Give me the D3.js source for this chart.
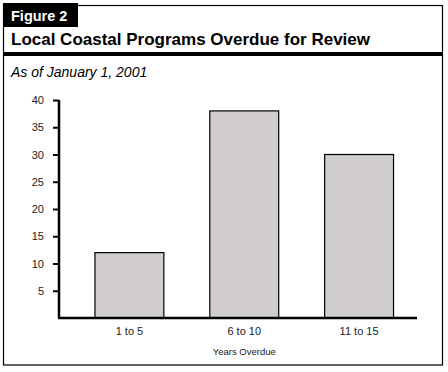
<!DOCTYPE html>
<html>
<head>
<meta charset="utf-8">
<script src="https://cdn.jsdelivr.net/npm/d3@7"></script>
<style>
  html, body { margin: 0; padding: 0; background: #fff; }
  text { font-family: "Liberation Sans", Arial, Helvetica, sans-serif; }
</style>
</head>
<body>
<svg id="chart" width="448" height="372"></svg>
<script>
const categories = ["1 to 5", "6 to 10", "11 to 15"];
const values = [12, 38, 30];
const yTicks = [5, 10, 15, 20, 25, 30, 35, 40];
const figureLabel = "Figure 2";
const title = "Local Coastal Programs Overdue for Review";
const subtitle = "As of January 1, 2001";
const xTitle = "Years Overdue";

const svg = d3.select("#chart");

// Frame
svg.append("rect").attr("x", 3.5).attr("y", 5.5).attr("width", 439).attr("height", 359.5)
  .attr("fill", "#fff").attr("stroke", "#000").attr("stroke-width", 1.2);
// Thick rule under title
svg.append("rect").attr("x", 3).attr("y", 52).attr("width", 440).attr("height", 4).attr("fill", "#000");
// Figure tab
svg.append("rect").attr("x", 3).attr("y", 3).attr("width", 75).attr("height", 24).attr("fill", "#000");
svg.append("text").attr("x", 11).attr("y", 21).attr("fill", "#fff")
  .attr("font-size", 14.5).attr("font-weight", "bold").text(figureLabel);
svg.append("text").attr("x", 11).attr("y", 45).attr("fill", "#000")
  .attr("font-size", 17).attr("font-weight", "bold").text(title);
svg.append("text").attr("x", 11).attr("y", 77).attr("fill", "#000")
  .attr("font-size", 14).attr("font-style", "italic").text(subtitle);

// Scales
const y = d3.scaleLinear().domain([0, 40]).range([318, 100]);
const x = d3.scaleBand().domain(categories).range([72, 416.5]).paddingInner(0.4).paddingOuter(0.2);

// Bars
svg.selectAll("rect.bar").data(values).enter().append("rect")
  .attr("class", "bar")
  .attr("x", (d, i) => x(categories[i]))
  .attr("y", d => y(d))
  .attr("width", x.bandwidth())
  .attr("height", d => y(0) - y(d))
  .attr("fill", "#d1cdcd").attr("stroke", "#000").attr("stroke-width", 1.2);

// Y axis
const yAxis = svg.append("g").attr("transform", "translate(59,0)")
  .call(d3.axisLeft(y).tickValues(yTicks).tickSize(6).tickPadding(9).tickFormat(d3.format("d")));
yAxis.select(".domain").attr("stroke-width", 2.5).attr("d", `M0,${y(40)}V${y(0)}`);
yAxis.selectAll(".tick line").attr("stroke-width", 2);
yAxis.selectAll(".tick text").attr("font-size", 11).attr("fill", "#222")
  .attr("font-family", "Liberation Sans, Arial, sans-serif");

// X axis
const xAxis = svg.append("g").attr("transform", `translate(0,${y(0)})`)
  .call(d3.axisBottom(x).tickSize(0).tickPadding(9));
xAxis.select(".domain").attr("stroke-width", 2.5).attr("d", "M58,0H417");
xAxis.selectAll(".tick text").attr("font-size", 11).attr("fill", "#222")
  .attr("font-family", "Liberation Sans, Arial, sans-serif");

svg.append("text").attr("x", x(categories[1]) + x.bandwidth() / 2).attr("y", 355)
  .attr("text-anchor", "middle").attr("font-size", 9.5).attr("fill", "#222").text(xTitle);
</script>
</body>
</html>
